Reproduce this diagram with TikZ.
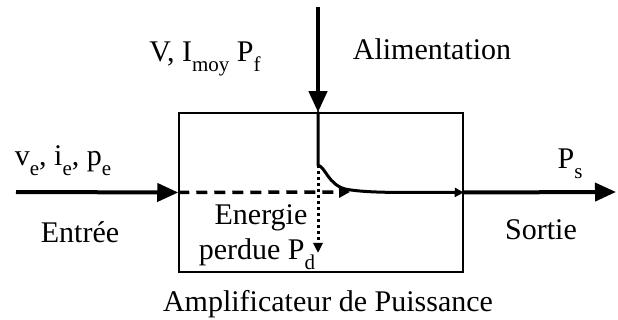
\documentclass[tikz,border=0pt]{standalone}
\usepackage{fontspec}
\setmainfont{Liberation Serif}
\usetikzlibrary{arrows.meta, calc}

% lowered index in text mode
\newcommand\lo[1]{\raisebox{-0.33em}{\fontsize{21}{21}\selectfont #1}}

\begin{document}
\begin{tikzpicture}[x=1pt, y=-1pt,
    txt/.style={font=\fontsize{30}{35}\selectfont, inner sep=0pt, anchor=base},
    bigarrow/.style={line width=4pt, -{Triangle[length=21pt,width=18pt]}},
    flow/.style={line width=3pt, line cap=round},
    lost/.style={line width=3pt, dash pattern=on 3pt off 3pt, -{Triangle[length=10pt,width=9pt]}},
    direct/.style={line width=3.5pt, dash pattern=on 11pt off 7pt, -{Triangle[length=11pt,width=11pt]}}]

    \useasboundingbox (0,0) rectangle (618,320);

    % 1. Der Block (Verstaerker)
    \node[draw, line width=1.5pt, minimum width=284pt, minimum height=159pt, inner sep=0pt] (amp) at (321,192.5) {};

    % Hilfspunkte
    \coordinate (in) at (16,192);
    \coordinate (out) at (616,192);
    \coordinate (top) at (318,7);
    \coordinate (split) at (318,165);
    \coordinate (dashend) at (350,192);
    \coordinate (lossend) at (318,253);

    % 2. Pfeile aussen
    \draw[bigarrow] (in) -- (amp.west);
    \draw[bigarrow] (amp.east) -- (out);
    \draw[bigarrow] (top) -- (amp.north -| top);

    % 3. Energiefluss im Block
    \draw[direct] (amp.west) -- (dashend);
    \draw[lost] (split) -- (lossend);
    \draw[flow, -{Triangle[length=9pt,width=9pt]}] (amp.north -| top) -- (split)
        .. controls (326,168) and (328,184) .. (345,189)
        .. controls (370,194) and (420,192) .. (amp.east);

    % 4. Beschriftungen
    \node[txt] (supply) at (205,62) {V, I\lo{moy} P\lo{f}};
    \node[txt] (alim) at (432,60) {Alimentation};
    \node[txt] (inlbl) at (63,166) {v\lo{e}, i\lo{e}, p\lo{e}};
    \node[txt] (outlbl) at (570,169) {P\lo{s}};
    \node[txt] (entree) at (80,243) {Entrée};
    \node[txt] (sortie) at (541,240) {Sortie};
    \node[txt] (loss1) at (261,225) {Energie};
    \node[txt] (loss2) at (257,260) {perdue P\lo{d}};
    \node[txt] (title) at (328,311) {Amplificateur de Puissance};

\end{tikzpicture}
\end{document}
